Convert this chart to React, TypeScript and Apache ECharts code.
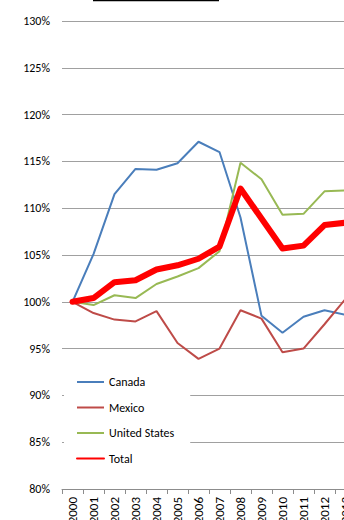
import React, { useEffect, useRef } from "react";
import * as echarts from "echarts";

// Index of trade values relative to 2000 (2000 = 100%)
const years = ["2000", "2001", "2002", "2003", "2004", "2005", "2006", "2007", "2008", "2009", "2010", "2011", "2012", "2013"];
const canada = [100, 105.1, 111.5, 114.2, 114.1, 114.8, 117.1, 116.0, 109.0, 98.5, 96.7, 98.4, 99.1, 98.6];
const mexico = [100, 98.8, 98.1, 97.9, 99.0, 95.6, 93.9, 95.0, 99.1, 98.2, 94.6, 95.0, 97.6, 100.3];
const unitedStates = [100, 99.65, 100.7, 100.4, 101.9, 102.7, 103.6, 105.4, 114.85, 113.1, 109.3, 109.4, 111.8, 111.9];
const total = [100, 100.4, 102.1, 102.3, 103.45, 103.9, 104.6, 105.9, 112.1, 108.9, 105.7, 106.0, 108.2, 108.45];

const FONT = "Carlito, Lato, 'Open Sans', sans-serif";

export default function App() {
  const ref = useRef<HTMLDivElement>(null);

  useEffect(() => {
    if (!ref.current) return;
    const chart = echarts.init(ref.current, undefined, { renderer: "svg" });
    chart.setOption({
      animation: false,
      backgroundColor: "#ffffff",
      textStyle: { fontFamily: FONT },
      grid: {
        left: 62,
        top: 21,
        bottom: 31,
        right: 14,
        containLabel: false,
        outerBoundsMode: "none",
      },
      legend: {
        orient: "vertical",
        left: 64,
        top: 368,
        padding: [8, 16, 8, 12],
        backgroundColor: "#ffffff",
        itemWidth: 27,
        itemHeight: 14,
        itemGap: 13.5,
        // line-only keys: hide the marker drawn in the middle of each key
        itemStyle: { color: "transparent", borderWidth: 0, opacity: 0 },
        textStyle: { fontFamily: FONT, fontSize: 12, color: "#000" },
        data: ["Canada", "Mexico", "United States", "Total"],
      },
      graphic: [
        {
          type: "line",
          shape: { x1: 93, y1: 0.5, x2: 219, y2: 0.5 },
          style: { stroke: "#000", lineWidth: 1.5 },
        },
      ],
      xAxis: {
        type: "category",
        data: years,
        boundaryGap: true,
        axisLine: { lineStyle: { color: "#8c8c8c", width: 1 } },
        axisTick: { show: true, length: 5, lineStyle: { color: "#8c8c8c" } },
        axisLabel: {
          rotate: 90,
          margin: 8,
          fontSize: 13,
          color: "#000",
          fontFamily: FONT,
          interval: 0,
        },
        splitLine: { show: false },
      },
      yAxis: {
        type: "value",
        min: 80,
        max: 130,
        interval: 5,
        axisLine: { show: false },
        axisTick: { show: false },
        axisLabel: {
          formatter: "{value}%",
          margin: 12,
          fontSize: 12,
          color: "#000",
          fontFamily: FONT,
        },
        splitLine: { lineStyle: { color: "#a0a0a0", width: 1 } },
      },
      series: [
        {
          name: "Canada",
          type: "line",
          data: canada,
          symbol: "none",
          lineStyle: { color: "#4A7EBB", width: 2 },
          itemStyle: { color: "#4A7EBB" },
        },
        {
          name: "Mexico",
          type: "line",
          data: mexico,
          symbol: "none",
          lineStyle: { color: "#BE4B48", width: 2 },
          itemStyle: { color: "#BE4B48" },
        },
        {
          name: "United States",
          type: "line",
          data: unitedStates,
          symbol: "none",
          lineStyle: { color: "#98B954", width: 2 },
          itemStyle: { color: "#98B954" },
        },
        {
          name: "Total",
          type: "line",
          data: total,
          symbol: "none",
          lineStyle: { color: "#FF0000", width: 6, cap: "round", join: "round" },
          itemStyle: { color: "#FF0000" },
        },
      ],
    });
    return () => chart.dispose();
  }, []);

  return (
    <div
      style={{
        position: "absolute",
        left: 0,
        top: 0,
        width: 344,
        height: 520,
        overflow: "hidden",
        background: "#fff",
      }}
    >
      <div ref={ref} style={{ width: 370, height: 520 }} />
    </div>
  );
}
